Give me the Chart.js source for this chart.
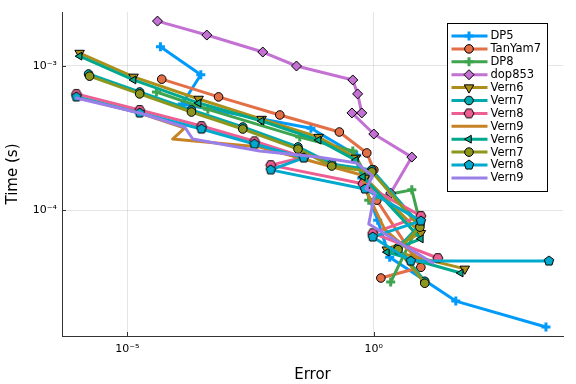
<!DOCTYPE html>
<html><head><meta charset="utf-8">
<script src="https://cdn.jsdelivr.net/npm/chart.js@4/dist/chart.umd.min.js"></script>
<style>html,body{margin:0;padding:0;background:#fff}#wrap{width:576px;height:384px;position:relative}</style>
</head><body><div id="wrap"><canvas id="c" width="576" height="384"></canvas></div>
<script>
// ---- data (Error, Time in s) ----
const seriesNames = ['DP5','TanYam7','DP8','dop853','Vern6','Vern7','Vern8','Vern9','Vern6','Vern7','Vern8','Vern9'];

const dp5Error = [4.7e-5, 3.1e-4, 1.3e-4, 0.053, 0.45, 0.57, 1.2, 2.1, 46, 3100];
const dp5Time  = [1.36e-3, 8.7e-4, 5.45e-4, 3.7e-4, 2.4e-4, 1.67e-4, 8.5e-5, 4.7e-5, 2.33e-5, 1.54e-5];

const tanYam7Error = [5.0e-5, 7.1e-4, 0.0124, 0.20, 0.72, 1.0, 0.66, 1.15, 9.0, 1.39];
const tanYam7Time  = [8.1e-4, 6.1e-4, 4.57e-4, 3.48e-4, 2.49e-4, 1.90e-4, 1.70e-4, 1.17e-4, 4.0e-5, 3.37e-5];

const dp8Error = [3.9e-5, 4.3e-4, 0.0315, 0.375, 0.69, 0.79, 2.2, 5.9, 8.6, 2.2];
const dp8Time  = [6.6e-4, 5.0e-4, 3.21e-4, 2.57e-4, 1.75e-4, 1.17e-4, 1.29e-4, 1.38e-4, 8.25e-5, 3.16e-5];

const dop853Error = [4.1e-5, 4.1e-4, 5.6e-3, 0.027, 0.375, 0.47, 0.57, 0.36, 1.0, 5.9, 2.2];
const dop853Time  = [2.05e-3, 1.64e-3, 1.25e-3, 1.0e-3, 8.0e-4, 6.4e-4, 4.72e-4, 4.72e-4, 3.37e-4, 2.33e-4, 1.31e-4];

const vern6aError = [1.08e-6, 1.34e-5, 2.8e-4, 5.3e-3, 0.076, 0.43, 0.66, 9.0, 1.84, 70];
const vern6aTime  = [1.23e-3, 8.4e-4, 5.9e-4, 4.28e-4, 3.21e-4, 2.30e-4, 1.67e-4, 6.9e-5, 5.3e-5, 3.9e-5];

const vern7aError = [1.64e-6, 1.78e-5, 2.0e-4, 2.2e-3, 0.029, 0.14, 0.91, 8.6, 3.1, 10.8];
const vern7aTime  = [8.8e-4, 6.6e-4, 4.95e-4, 3.77e-4, 2.74e-4, 2.09e-4, 1.90e-4, 7.9e-5, 5.45e-5, 3.2e-5];

const vern8aError = [9.3e-7, 1.78e-5, 3.2e-4, 3.8e-3, 0.038, 8.1e-3, 0.6, 9.0, 0.95, 19.9];
const vern8aTime  = [6.4e-4, 4.95e-4, 3.83e-4, 3.0e-4, 2.33e-4, 2.05e-4, 1.52e-4, 9.1e-5, 6.9e-5, 4.64e-5];

const vern9aError = [9.3e-7, 1.78e-5, 1.46e-4, 8.3e-5, 4.85e-3, 0.57, 0.72, 1.67, 9.9];
const vern9aTime  = [6.1e-4, 4.72e-4, 3.71e-4, 3.11e-4, 2.74e-4, 1.75e-4, 1.33e-4, 7.3e-5, 4.35e-5];

const vern6bError = [1.08e-6, 1.34e-5, 2.8e-4, 5.3e-3, 0.076, 0.43, 0.6, 9.0, 1.84, 58];
const vern6bTime  = [1.17e-3, 8.0e-4, 5.53e-4, 4.15e-4, 3.06e-4, 2.22e-4, 1.70e-4, 6.3e-5, 5.1e-5, 3.65e-5];

const vern7bError = [1.72e-6, 1.78e-5, 2.0e-4, 2.2e-3, 0.029, 0.14, 0.91, 8.6, 3.1, 10.8];
const vern7bTime  = [8.5e-4, 6.4e-4, 4.79e-4, 3.65e-4, 2.65e-4, 2.02e-4, 1.84e-4, 7.6e-5, 5.3e-5, 3.1e-5];

const vern8bError = [9.3e-7, 1.78e-5, 3.2e-4, 3.8e-3, 0.038, 8.1e-3, 0.66, 9.0, 0.95, 5.6, 3570];
const vern8bTime  = [6.1e-4, 4.72e-4, 3.65e-4, 2.87e-4, 2.30e-4, 1.90e-4, 1.40e-4, 8.4e-5, 6.5e-5, 4.42e-5, 4.42e-5];

const vern9bError = [9.3e-7, 1.78e-5, 1.46e-4, 2.12e-4, 4.85e-3, 0.073, 0.45, 0.95, 0.69, 1.05, 0.79, 15.8];
const vern9bTime  = [6.0e-4, 4.72e-4, 3.77e-4, 3.11e-4, 2.57e-4, 2.33e-4, 2.12e-4, 1.72e-4, 1.40e-4, 1.31e-4, 8.0e-5, 4.28e-5];

const xTickValues = [1e-5, 1];
const xTickLabels = ['10\u207B\u2075', '10\u2070'];
const yTickValues = [1e-4, 1e-3];
const yTickLabels = ['10\u207B\u2074', '10\u207B\u00B3'];
const xLimits = [Math.pow(10, -6.324), Math.pow(10, 3.837)];
const yLimits = [Math.pow(10, -4.875), Math.pow(10, -2.625)];

const allErrors = [dp5Error, tanYam7Error, dp8Error, dop853Error, vern6aError, vern7aError, vern8aError, vern9aError, vern6bError, vern7bError, vern8bError, vern9bError];
const allTimes  = [dp5Time, tanYam7Time, dp8Time, dop853Time, vern6aTime, vern7aTime, vern8aTime, vern9aTime, vern6bTime, vern7bTime, vern8bTime, vern9bTime];

// ---- styles ----
const colors = ['#009AFA','#E36F47','#3EA44E','#C371D2','#AC8E18','#00A9AD','#ED5E93','#C68225','#00A98D','#8E971D','#00A9CD','#9B7FE9'];
const markers = ['cross','circle','cross','diamond','tridown','circle','hexagon','none','trileft','circle','pentagon','none'];

function polyCanvas(n, color, r, rot) {
  const s = Math.ceil(2 * r + 4);
  const cv = document.createElement('canvas');
  cv.width = s; cv.height = s;
  const c = cv.getContext('2d');
  c.beginPath();
  for (let k = 0; k < n; k++) {
    const a = rot + k * 2 * Math.PI / n;
    const px = s / 2 + r * Math.cos(a), py = s / 2 + r * Math.sin(a);
    k ? c.lineTo(px, py) : c.moveTo(px, py);
  }
  c.closePath();
  c.fillStyle = color; c.fill();
  c.lineWidth = 1; c.strokeStyle = '#000'; c.stroke();
  return cv;
}

function markerProps(m, color) {
  switch (m) {
    case 'cross': return {pointStyle: 'cross', pointRadius: 4.5, pointBorderWidth: 3, pointBorderColor: color, pointBackgroundColor: color, pointRotation: 0};
    case 'circle': return {pointStyle: 'circle', pointRadius: 4.3, pointBorderWidth: 1, pointBorderColor: '#000', pointBackgroundColor: color, pointRotation: 0};
    case 'diamond': return {pointStyle: 'rectRot', pointRadius: 5, pointBorderWidth: 1, pointBorderColor: '#000', pointBackgroundColor: color, pointRotation: 0};
    case 'tridown': return {pointStyle: 'triangle', pointRadius: 5.5, pointBorderWidth: 1, pointBorderColor: '#000', pointBackgroundColor: color, pointRotation: 180};
    case 'trileft': return {pointStyle: 'triangle', pointRadius: 4.5, pointBorderWidth: 1, pointBorderColor: '#000', pointBackgroundColor: color, pointRotation: 270};
    case 'hexagon': return {pointStyle: polyCanvas(6, color, 5, 0), pointRadius: 5, pointBorderWidth: 1, pointBorderColor: '#000', pointBackgroundColor: color, pointRotation: 0};
    case 'pentagon': return {pointStyle: polyCanvas(5, color, 5, -Math.PI / 2), pointRadius: 5, pointBorderWidth: 1, pointBorderColor: '#000', pointBackgroundColor: color, pointRotation: 0};
    default: return {pointStyle: 'circle', pointRadius: 0, pointBorderWidth: 0, pointBorderColor: color, pointBackgroundColor: color, pointRotation: 0};
  }
}

const datasets = seriesNames.map((name, i) => Object.assign({
  label: name,
  data: allErrors[i].map((e, k) => ({x: e, y: allTimes[i][k]})),
  showLine: true,
  borderColor: colors[i],
  backgroundColor: colors[i],
  borderWidth: 3,
  borderJoinStyle: 'round',
  borderCapStyle: 'round',
  tension: 0,
  order: -i,
  pointHoverRadius: 0
}, markerProps(markers[i], colors[i])));

const FONT = "'DejaVu Sans', sans-serif";

const inwardTicks = {
  id: 'inwardTicks',
  beforeDatasetsDraw(chart) {
    const ctx = chart.ctx, a = chart.chartArea, sx = chart.scales.x, sy = chart.scales.y;
    ctx.save();
    ctx.strokeStyle = '#333'; ctx.lineWidth = 1;
    ctx.beginPath();
    xTickValues.forEach(v => { const p = Math.round(sx.getPixelForValue(v)) + 0.5; ctx.moveTo(p, a.bottom); ctx.lineTo(p, a.bottom - 4); });
    yTickValues.forEach(v => { const p = Math.round(sy.getPixelForValue(v)) + 0.5; ctx.moveTo(a.left, p); ctx.lineTo(a.left + 4, p); });
    ctx.stroke();
    ctx.restore();
  }
};

const juliaLegend = {
  id: 'juliaLegend',
  afterDraw(chart) {
    const ctx = chart.ctx, a = chart.chartArea;
    const bw = 100, bh = 168;
    const bx = Math.round(a.right - 16 - bw) + 0.5, by = Math.round(a.top + 11) + 0.5;
    ctx.save();
    ctx.fillStyle = '#fff'; ctx.fillRect(bx, by, bw, bh);
    ctx.strokeStyle = '#000'; ctx.lineWidth = 1; ctx.strokeRect(bx, by, bw, bh);
    ctx.font = '11.5px ' + FONT;
    ctx.textBaseline = 'middle'; ctx.textAlign = 'left';
    chart.data.datasets.forEach((ds, i) => {
      const y = by + 12.5 + i * 12.9;
      ctx.strokeStyle = ds.borderColor; ctx.lineWidth = 3; ctx.lineCap = 'butt';
      ctx.beginPath(); ctx.moveTo(bx + 4, y); ctx.lineTo(bx + 40, y); ctx.stroke();
      if (ds.pointRadius > 0) {
        ctx.fillStyle = ds.pointBackgroundColor;
        ctx.strokeStyle = ds.pointBorderColor;
        ctx.lineWidth = ds.pointBorderWidth;
        Chart.helpers.drawPoint(ctx, {pointStyle: ds.pointStyle, rotation: ds.pointRotation, radius: ds.pointRadius, borderWidth: ds.pointBorderWidth}, bx + 21.5, y);
      }
      ctx.fillStyle = '#000';
      ctx.fillText(ds.label, bx + 43, y + 0.5);
    });
    ctx.restore();
  }
};

new Chart(document.getElementById('c'), {
  type: 'scatter',
  data: {datasets},
  options: {
    responsive: false,
    animation: false,
    devicePixelRatio: 1,
    layout: {padding: {top: 12, right: 13, left: 0, bottom: 0}},
    plugins: {legend: {display: false}, tooltip: {enabled: false}},
    events: [],
    scales: {
      x: {
        type: 'logarithmic',
        min: xLimits[0], max: xLimits[1],
        afterBuildTicks: s => { s.ticks = xTickValues.map(v => ({value: v})); },
        afterFit: s => { s.height = 48; },
        ticks: {
          callback: v => { const k = xTickValues.findIndex(t => Math.abs(Math.log10(t) - Math.log10(v)) < 1e-6); return k >= 0 ? xTickLabels[k] : ''; },
          font: {family: FONT, size: 11}, color: '#000', padding: 7, maxRotation: 0, autoSkip: false
        },
        grid: {color: 'rgba(0,0,0,0.1)', lineWidth: 1, drawTicks: false},
        border: {display: true, color: '#333', width: 1},
        title: {display: true, text: 'Error', font: {family: FONT, size: 15}, color: '#000', padding: {top: 1, bottom: 0}}
      },
      y: {
        type: 'logarithmic',
        min: yLimits[0], max: yLimits[1],
        afterBuildTicks: s => { s.ticks = yTickValues.map(v => ({value: v})); },
        afterFit: s => { s.width = 62; },
        ticks: {
          callback: v => { const k = yTickValues.findIndex(t => Math.abs(Math.log10(t) - Math.log10(v)) < 1e-6); return k >= 0 ? yTickLabels[k] : ''; },
          font: {family: FONT, size: 11}, color: '#000', padding: 5, autoSkip: false
        },
        grid: {color: 'rgba(0,0,0,0.1)', lineWidth: 1, drawTicks: false},
        border: {display: true, color: '#333', width: 1},
        title: {display: true, text: 'Time (s)', font: {family: FONT, size: 15}, color: '#000', padding: {top: 4, bottom: 0}}
      }
    }
  },
  plugins: [inwardTicks, juliaLegend]
});
</script>
</body></html>
